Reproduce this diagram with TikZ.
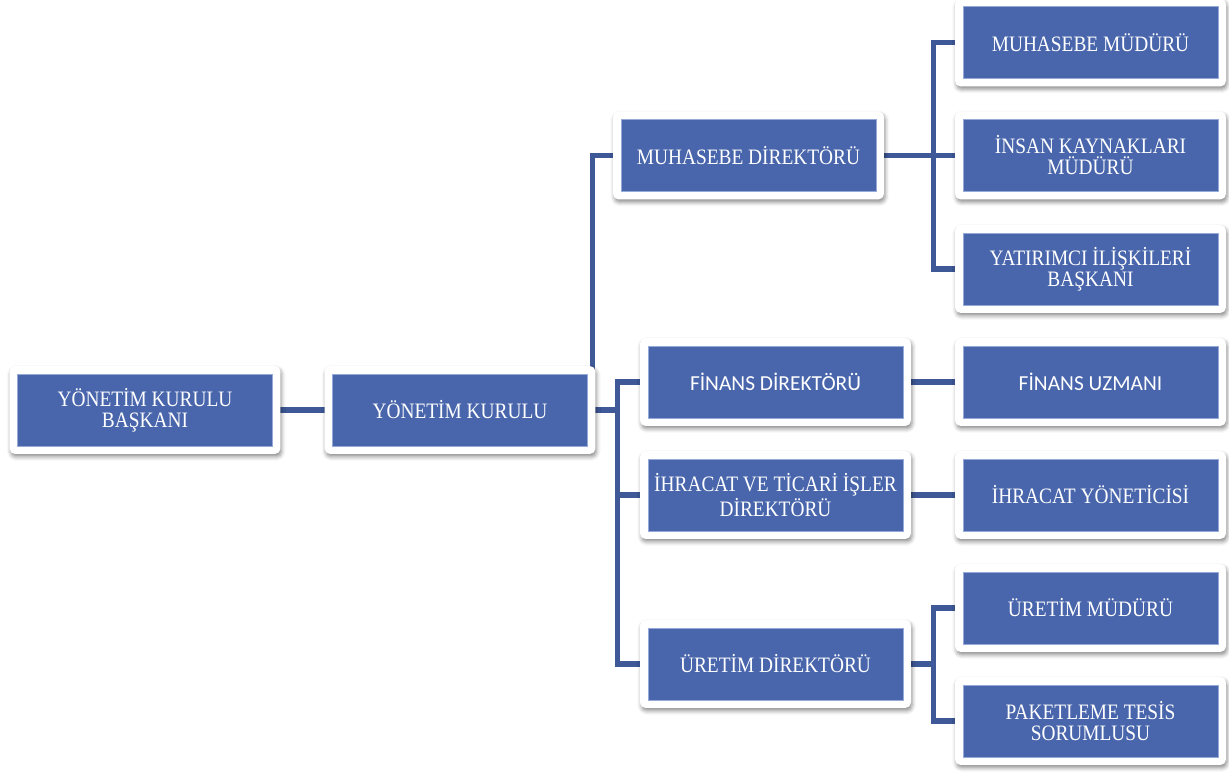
\documentclass[tikz,border=0pt]{standalone}
\usepackage{fontspec}
\setmainfont[FakeStretch=0.88]{Liberation Serif}
\newfontfamily\calibri{Carlito}
\usetikzlibrary{positioning, backgrounds, shadows.blur}

\definecolor{kutumavi}{RGB}{73,102,172}
\definecolor{hatmavi}{RGB}{62,88,152}
\definecolor{kenarmavi}{RGB}{150,170,215}

\begin{document}
\begin{tikzpicture}[
    x=0.5pt, y=-0.5pt,
    mybox/.style={fill=kutumavi, draw=kenarmavi, line width=0.3pt, text=white,
        minimum width=127.5pt, minimum height=36pt, inner sep=0pt, align=center,
        font=\fontsize{11}{10.5}\selectfont},
    mysans/.style={font=\calibri\fontsize{10.7}{10.5}\selectfont},
    myframe/.style={fill=white, rounded corners=2.5pt,
        blur shadow={shadow xshift=0.6pt, shadow yshift=-1.5pt, shadow blur radius=2pt, shadow opacity=45}},
    myline/.style={draw=hatmavi, line width=2.6pt}]

\useasboundingbox (0,0) rectangle (1229,771);

\node[mybox](baskan) at (145,410) {YÖNETİM KURULU\\BAŞKANI};
\node[mybox](kurul) at (460,410) {YÖNETİM KURULU};

\node[mybox](muhdir) at (748.5,155.5) {MUHASEBE DİREKTÖRÜ};
\node[mybox, mysans](findir) at (775.5,382) {FİNANS DİREKTÖRÜ};
\node[mybox](ihrdir) at (775.5,495) {İHRACAT VE TİCARİ İŞLER\\DİREKTÖRÜ};
\node[mybox](uretdir) at (775.5,664) {ÜRETİM DİREKTÖRÜ};

\node[mybox](muhmud) at (1090.5,42.5) {MUHASEBE MÜDÜRÜ};
\node[mybox](ikmud) at (1090.5,155.5) {İNSAN KAYNAKLARI\\MÜDÜRÜ};
\node[mybox](yatbas) at (1090.5,269) {YATIRIMCI İLİŞKİLERİ\\BAŞKANI};
\node[mybox, mysans](finuzm) at (1090.5,382) {FİNANS UZMANI};
\node[mybox](ihryon) at (1090.5,495) {İHRACAT YÖNETİCİSİ};
\node[mybox](uretmud) at (1090.5,608) {ÜRETİM MÜDÜRÜ};
\node[mybox](paket) at (1090.5,721) {PAKETLEME TESİS\\SORUMLUSU};

\begin{pgfonlayer}{background}
% baglantilar
\draw[myline] (baskan) -- (kurul);
\draw[myline] (kurul.east) -- ++(5,0) |- (muhdir.west);
\draw[myline] (kurul.east) -- ++(30,0) |- (findir.west);
\draw[myline] (kurul.east) -- ++(30,0) |- (ihrdir.west);
\draw[myline] (kurul.east) -- ++(30,0) |- (uretdir.west);
\draw[myline] (muhdir.east) -- ++(57,0) |- (muhmud.west);
\draw[myline] (muhdir.east) -- ++(57,0) |- (ikmud.west);
\draw[myline] (muhdir.east) -- ++(57,0) |- (yatbas.west);
\draw[myline] (findir) -- (finuzm);
\draw[myline] (ihrdir) -- (ihryon);
\draw[myline] (uretdir.east) -- ++(30,0) |- (uretmud.west);
\draw[myline] (uretdir.east) -- ++(30,0) |- (paket.west);
% beyaz cerceveler
\foreach \n in {baskan,kurul,muhdir,findir,ihrdir,uretdir,muhmud,ikmud,yatbas,finuzm,ihryon,uretmud,paket}
    \path[myframe] ([shift={(-7.5,-7.5)}]\n.north west) rectangle ([shift={(7.5,7.5)}]\n.south east);
\end{pgfonlayer}
\end{tikzpicture}
\end{document}
